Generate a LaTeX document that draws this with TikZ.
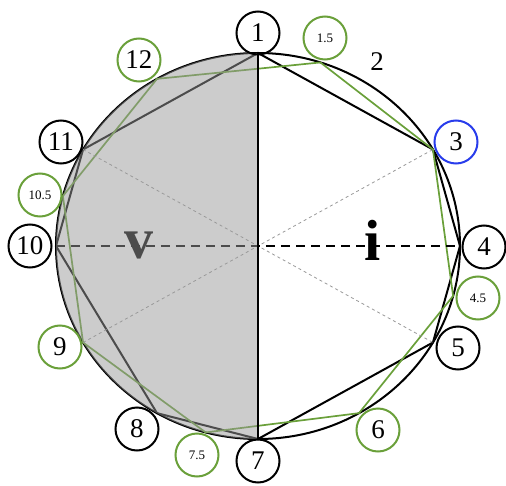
\documentclass[tikz,border=0pt]{standalone}
\usepackage{fontspec}
\setmainfont{Liberation Serif}
\usetikzlibrary{positioning}
\definecolor{leafgreen}{RGB}{106,160,58}
\definecolor{markblue}{RGB}{40,60,235}

\begin{document}
\begin{tikzpicture}[x=1pt, y=1pt,
  numlabel/.style={draw, circle, line width=2pt, minimum size=43pt, inner sep=0pt,
    font=\fontsize{27}{27}\selectfont},
  greenlabel/.style={numlabel, draw=leafgreen},
  halflabel/.style={greenlabel, font=\fontsize{13}{13}\selectfont},
  bigletter/.style={anchor=base, font=\fontsize{58}{58}\selectfont\bfseries}]
  \useasboundingbox (-258,-239) rectangle (248,246);
  % Points on the circle
  \coordinate (c) at (0,0);
  \foreach \n/\a in {1/90, 15/72, 3/30, 4/0, 45/-15, 5/-30, 6/-60, 7/-90,
      75/-105, 8/-120, 9/-150, 10/180, 105/165, 11/150, 12/120}
    \coordinate (p\n) at (\a:202 and 193);
  % Circle and polygons
  \draw[line width=2pt] (c) ellipse [x radius=202, y radius=193];
  \draw[line width=2pt] (p1) -- (p3) -- (p4) -- (p5) -- (p7) -- (p8) -- (p10) -- (p11) -- cycle;
  \draw[leafgreen, line width=1.7pt] (p15) -- (p3) -- (p45) -- (p6) -- (p75) -- (p9) -- (p105) -- (p12) -- cycle;
  % Axes
  \draw[gray!80, line width=0.8pt, dash pattern=on 3pt off 3pt] (p11) -- (c) -- (p3) (p9) -- (c) -- (p5);
  \draw[line width=2pt, dash pattern=on 9pt off 6pt] (p10) -- (p4);
  \node[bigletter] (vlab) at (-119,-12) {v};
  \node[bigletter] (ilab) at (115,-14) {i};
  % Shaded half
  \fill[black!40, opacity=0.5] (p1) arc [start angle=90, end angle=270, x radius=202, y radius=193] -- cycle;
  \draw[line width=2pt] (p1) -- (p7);
  % Labels
  \node[numlabel] (l1) at (0,213) {1};
  \node[halflabel] (l15) at (67,208) {1.5};
  \node[font=\fontsize{27}{27}\selectfont] (l2) at (119,184) {2};
  \node[numlabel, draw=markblue] (l3) at (198,104) {3};
  \node[numlabel] (l4) at (226,-1) {4};
  \node[halflabel] (l45) at (220,-52) {4.5};
  \node[numlabel] (l5) at (200,-102) {5};
  \node[greenlabel] (l6) at (120,-184) {6};
  \node[numlabel] (l7) at (0,-215) {7};
  \node[halflabel] (l75) at (-61,-209) {7.5};
  \node[numlabel] (l8) at (-121,-183) {8};
  \node[greenlabel] (l9) at (-198,-101) {9};
  \node[numlabel] (l10) at (-228,0) {10};
  \node[halflabel] (l105) at (-218,51) {10.5};
  \node[numlabel] (l11) at (-197,104) {11};
  \node[greenlabel] (l12) at (-119,186) {12};
\end{tikzpicture}
\end{document}
